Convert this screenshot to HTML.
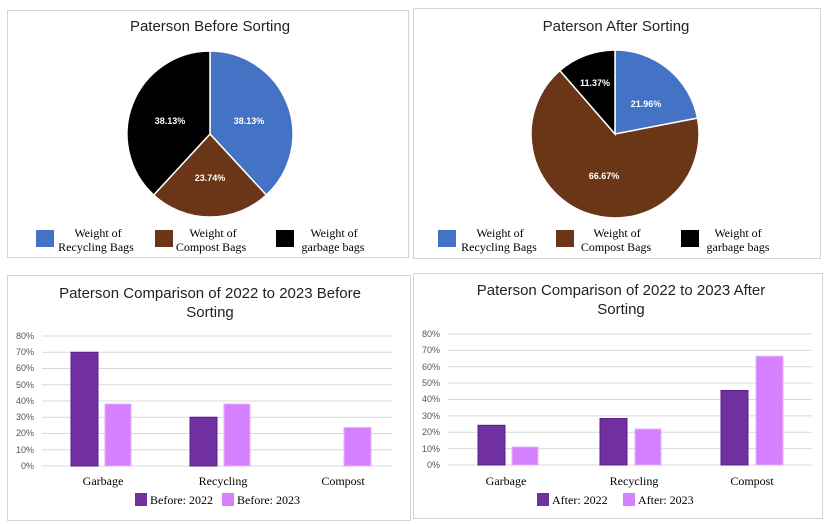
<!DOCTYPE html>
<html><head><meta charset="utf-8"><style>
html,body{margin:0;padding:0;background:#fff;}
svg{display:block;}
.t{font-family:"Liberation Sans",sans-serif;font-size:15px;fill:#222;text-anchor:middle;}
.lg{font-family:"Liberation Serif",serif;font-size:12px;fill:#000;text-anchor:middle;}
.pl{font-family:"Liberation Sans",sans-serif;font-size:9px;font-weight:bold;fill:#fff;text-anchor:middle;}
.ax{font-family:"Liberation Sans",sans-serif;font-size:9px;fill:#555;text-anchor:end;}
.cat{font-family:"Liberation Serif",serif;font-size:12px;fill:#000;text-anchor:middle;}
.bl{font-family:"Liberation Serif",serif;font-size:12px;fill:#000;}
</style></head><body>
<svg width="828" height="524" viewBox="0 0 828 524">
<rect x="0" y="0" width="828" height="524" fill="#fff"/>
<!-- panels -->
<rect x="7.5" y="10.5" width="401" height="247" fill="none" stroke="#d4d4d4"/>
<rect x="413.5" y="8.5" width="407" height="250" fill="none" stroke="#d4d4d4"/>
<rect x="7.5" y="275.5" width="403" height="245" fill="none" stroke="#d4d4d4"/>
<rect x="413.5" y="273.5" width="409" height="245" fill="none" stroke="#d4d4d4"/>

<!-- TL pie -->
<text class="t" x="210" y="31">Paterson Before Sorting</text>
<g stroke="#fff" stroke-width="1.5">
<path d="M210,134 L210,51 A83,83 0 0 1 266.3,195 Z" fill="#4472C4"/>
<path d="M210,134 L266.3,195 A83,83 0 0 1 153.7,195 Z" fill="#6B3518"/>
<path d="M210,134 L153.7,195 A83,83 0 0 1 210,51 Z" fill="#000"/>
</g>
<text class="pl" x="249" y="124">38.13%</text>
<text class="pl" x="210" y="181">23.74%</text>
<text class="pl" x="170" y="124">38.13%</text>
<rect x="36" y="230" width="18" height="17" fill="#4472C4"/>
<text class="lg" x="98" y="237">Weight of</text><text class="lg" x="96" y="251">Recycling Bags</text>
<rect x="155" y="230" width="18" height="17" fill="#6B3518"/>
<text class="lg" x="213" y="237">Weight of</text><text class="lg" x="211" y="251">Compost Bags</text>
<rect x="276" y="230" width="18" height="17" fill="#000"/>
<text class="lg" x="334" y="237">Weight of</text><text class="lg" x="333" y="251">garbage bags</text>

<!-- TR pie -->
<text class="t" x="616" y="31">Paterson After Sorting</text>
<g stroke="#fff" stroke-width="1.5">
<path d="M615,134 L615,50 A84,84 0 0 1 697.5,118.1 Z" fill="#4472C4"/>
<path d="M615,134 L697.5,118.1 A84,84 0 1 1 559.9,70.6 Z" fill="#6B3518"/>
<path d="M615,134 L559.9,70.6 A84,84 0 0 1 615,50 Z" fill="#000"/>
</g>
<text class="pl" x="646" y="107">21.96%</text>
<text class="pl" x="604" y="179">66.67%</text>
<text class="pl" x="595" y="134" dy="-48">11.37%</text>
<rect x="438" y="230" width="18" height="17" fill="#4472C4"/>
<text class="lg" x="500" y="237">Weight of</text><text class="lg" x="499" y="251">Recycling Bags</text>
<rect x="556" y="230" width="18" height="17" fill="#6B3518"/>
<text class="lg" x="617" y="237">Weight of</text><text class="lg" x="616" y="251">Compost Bags</text>
<rect x="681" y="230" width="18" height="17" fill="#000"/>
<text class="lg" x="738" y="237">Weight of</text><text class="lg" x="738" y="251">garbage bags</text>

<!-- BL bar -->
<text class="t" x="210" y="298">Paterson Comparison of 2022 to 2023 Before</text>
<text class="t" x="210" y="317">Sorting</text>
<g stroke="#d9d9d9" stroke-width="1">
<line x1="42" x2="392" y1="336" y2="336"/><line x1="42" x2="392" y1="352.25" y2="352.25"/>
<line x1="42" x2="392" y1="368.5" y2="368.5"/><line x1="42" x2="392" y1="384.75" y2="384.75"/>
<line x1="42" x2="392" y1="401" y2="401"/><line x1="42" x2="392" y1="417.25" y2="417.25"/>
<line x1="42" x2="392" y1="433.5" y2="433.5"/><line x1="42" x2="392" y1="449.75" y2="449.75"/>
<line x1="42" x2="392" y1="466" y2="466"/>
</g>
<g>
<text class="ax" x="34" y="339">80%</text><text class="ax" x="34" y="355">70%</text>
<text class="ax" x="34" y="371">60%</text><text class="ax" x="34" y="388">50%</text>
<text class="ax" x="34" y="404">40%</text><text class="ax" x="34" y="420">30%</text>
<text class="ax" x="34" y="436">20%</text><text class="ax" x="34" y="453">10%</text>
<text class="ax" x="34" y="469">0%</text>
</g>
<rect x="71" y="352.25" width="27" height="113.75" fill="#7030A0" stroke="#5a1f8a" stroke-width="1"/>
<rect x="105" y="404" width="26" height="62" fill="#D580FF" stroke="#e5b0ff" stroke-width="1"/>
<rect x="190" y="417.25" width="27" height="48.75" fill="#7030A0" stroke="#5a1f8a" stroke-width="1"/>
<rect x="224" y="404" width="26" height="62" fill="#D580FF" stroke="#e5b0ff" stroke-width="1"/>
<rect x="344" y="427.5" width="27" height="38.5" fill="#D580FF" stroke="#e5b0ff" stroke-width="1"/>
<text class="cat" x="103" y="485">Garbage</text>
<text class="cat" x="223" y="485">Recycling</text>
<text class="cat" x="343" y="485">Compost</text>
<rect x="135" y="493" width="12" height="13" fill="#7030A0"/>
<text class="bl" x="150" y="504">Before: 2022</text>
<rect x="222" y="493" width="12" height="13" fill="#D580FF"/>
<text class="bl" x="237" y="504">Before: 2023</text>

<!-- BR bar -->
<text class="t" x="621" y="295">Paterson Comparison of 2022 to 2023 After</text>
<text class="t" x="621" y="314">Sorting</text>
<g stroke="#d9d9d9" stroke-width="1">
<line x1="448" x2="812" y1="334" y2="334"/><line x1="448" x2="812" y1="350.4" y2="350.4"/>
<line x1="448" x2="812" y1="366.8" y2="366.8"/><line x1="448" x2="812" y1="383.1" y2="383.1"/>
<line x1="448" x2="812" y1="399.5" y2="399.5"/><line x1="448" x2="812" y1="415.9" y2="415.9"/>
<line x1="448" x2="812" y1="432.3" y2="432.3"/><line x1="448" x2="812" y1="448.6" y2="448.6"/>
<line x1="448" x2="812" y1="465" y2="465"/>
</g>
<g>
<text class="ax" x="440" y="337">80%</text><text class="ax" x="440" y="353">70%</text>
<text class="ax" x="440" y="370">60%</text><text class="ax" x="440" y="386">50%</text>
<text class="ax" x="440" y="402">40%</text><text class="ax" x="440" y="419">30%</text>
<text class="ax" x="440" y="435">20%</text><text class="ax" x="440" y="452">10%</text>
<text class="ax" x="440" y="468">0%</text>
</g>
<rect x="478" y="425.3" width="27" height="39.7" fill="#7030A0" stroke="#5a1f8a" stroke-width="1"/>
<rect x="512" y="447" width="26" height="18" fill="#D580FF" stroke="#e5b0ff" stroke-width="1"/>
<rect x="600" y="418.5" width="27" height="46.5" fill="#7030A0" stroke="#5a1f8a" stroke-width="1"/>
<rect x="635" y="429" width="26" height="36" fill="#D580FF" stroke="#e5b0ff" stroke-width="1"/>
<rect x="721" y="390.5" width="27" height="74.5" fill="#7030A0" stroke="#5a1f8a" stroke-width="1"/>
<rect x="756" y="356.2" width="27" height="108.8" fill="#D580FF" stroke="#e5b0ff" stroke-width="1"/>
<text class="cat" x="506" y="485">Garbage</text>
<text class="cat" x="634" y="485">Recycling</text>
<text class="cat" x="752" y="485">Compost</text>
<rect x="537" y="493" width="12" height="13" fill="#7030A0"/>
<text class="bl" x="552" y="504">After: 2022</text>
<rect x="623" y="493" width="12" height="13" fill="#D580FF"/>
<text class="bl" x="638" y="504">After: 2023</text>
</svg>
</body></html>
